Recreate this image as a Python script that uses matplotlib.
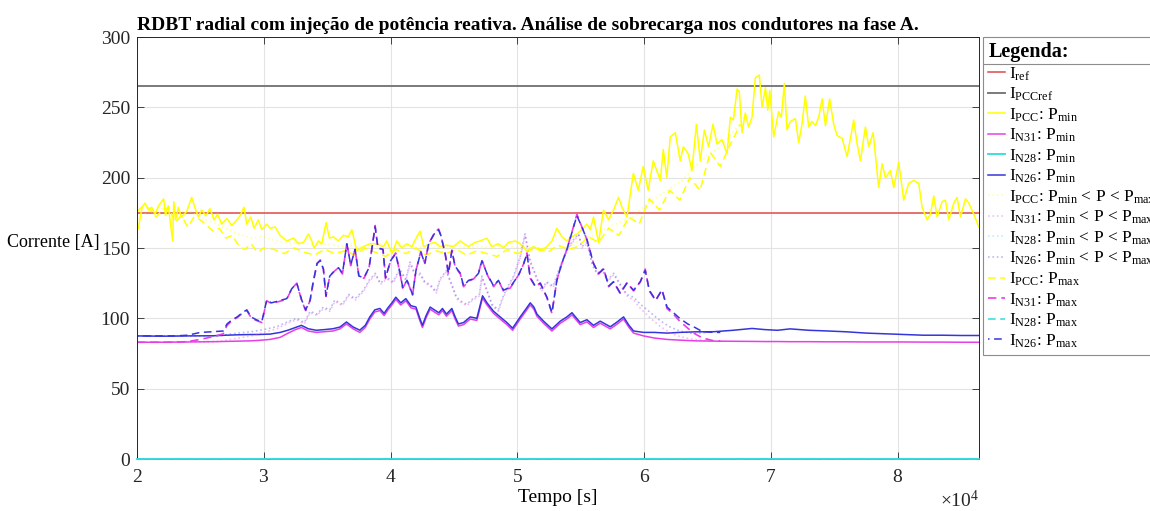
import numpy as np
import matplotlib
matplotlib.use("Agg")
import matplotlib.pyplot as plt
from matplotlib.lines import Line2D
from matplotlib.ticker import MultipleLocator

plt.rcParams["font.family"] = "Liberation Serif"
plt.rcParams["mathtext.fontset"] = "custom"
plt.rcParams["mathtext.rm"] = "Liberation Serif"
plt.rcParams["mathtext.it"] = "Liberation Serif:italic"
plt.rcParams["mathtext.bf"] = "Liberation Serif:bold"
plt.rcParams["mathtext.default"] = "rm"

# ── Reference currents [A] ────────────────────────────────────────────────
I_REF = 175
I_PCC_REF = 265

# ── I_PCC, P_min (seconds, amperes) ──────────────────────────────────────
t_pcc_min = [
    20100, 20400, 20630, 20900, 21150, 21420, 21700, 21950, 22100, 22250,
    22470, 22650, 22810, 22900, 23050, 23260, 23500, 23920, 24310, 24560,
    24840, 25100, 25440, 25750, 26080, 26350, 26680, 27080, 27470, 27870,
    28130, 28440, 28650, 28970, 29230, 29570, 29840, 30230, 30500, 30890,
    31280, 31800, 32340, 32730, 33130, 33520, 33780, 33970, 34300, 34570,
    34910, 35170, 35480, 35880, 36280, 36670, 36940, 37330, 37850, 38380,
    38900, 39430, 39700, 40100, 40490, 40880, 41280, 41670, 42070, 42330,
    42600, 43100, 43500, 43890, 44420, 44950, 45480, 46130, 46660, 47060,
    47590, 47980, 48500, 48900, 49300, 49830, 50220, 50750, 51270, 51800,
    52330, 52720, 53110, 53500, 53900, 54300, 54690, 55080, 55480, 55740,
    56000, 56400, 56790, 57180, 57580, 57970, 58240, 58640, 59140, 59530,
    59920, 60310, 60710, 61270, 61500, 61780, 62050, 62450, 62840, 63080,
    63470, 63760, 64110, 64420, 64740, 65080, 65420, 65740, 66130, 66530,
    66790, 67030, 67320, 67500, 67710, 67970, 68230, 68500, 68760, 69080,
    69290, 69560, 69740, 69900, 70210, 70600, 70810, 71050, 71260, 71520,
    71920, 72180, 72440, 72700, 72970, 73230, 73500, 73760, 74030, 74290,
    74620, 74940, 75210, 75600, 76000, 76520, 76790, 77050, 77440, 77710,
    78050, 78490, 78760, 79020, 79410, 79680, 80070, 80460, 80860, 81250,
    81650, 81910, 82310, 82570, 82830, 83100, 83490, 83750, 84020, 84410,
    84670, 84940, 85330, 85590, 85990, 86380,
]
i_pcc_min = [
    164, 179, 182, 177, 179, 174, 180, 183, 185, 173,
    180, 167, 155, 183, 170, 179, 172, 176, 186, 179,
    172, 177, 173, 178, 170, 174, 167, 171, 166, 170,
    173, 179, 167, 172, 164, 170, 163, 167, 164, 165,
    159, 155, 157, 153, 154, 160, 155, 150, 155, 153,
    168, 157, 158, 155, 159, 158, 163, 148, 151, 153,
    153, 151, 155, 146, 155, 150, 153, 151, 158, 162,
    151, 153, 154, 151, 152, 151, 155, 151, 154, 155,
    157, 151, 153, 150, 154, 155, 153, 148, 151, 148,
    151, 155, 164, 158, 155, 158, 160, 163, 167, 163,
    172, 154, 177, 170, 177, 186, 179, 172, 203, 191,
    208, 191, 212, 198, 220, 200, 229, 232, 212, 222,
    217, 205, 238, 212, 234, 222, 238, 224, 227, 217,
    243, 241, 263, 261, 232, 246, 236, 243, 271, 273,
    250, 264, 248, 262, 229, 247, 243, 267, 234, 240,
    242, 225, 238, 258, 236, 240, 237, 243, 256, 237,
    256, 238, 230, 228, 215, 241, 224, 212, 236, 222,
    232, 193, 210, 200, 205, 193, 211, 184, 196, 198,
    196, 179, 170, 174, 187, 172, 183, 184, 170, 182,
    186, 172, 185, 182, 174, 165,
]

# ── I_PCC, P_min < P < P_max ─────────────────────────────────────────────
t_pcc_mid = np.arange(20000, 68001, 1000)
i_pcc_mid = [
    171, 176, 178, 174, 177, 172, 168, 164, 160, 157,
    158, 155, 153, 154, 152, 153, 151, 152, 150, 151,
    150, 152, 150, 151, 150, 152, 150, 151, 150, 152,
    150, 151, 149, 150, 151, 156, 159, 164, 168, 171,
    180, 186, 192, 198, 208, 216, 222, 232, 245,
]

# ── I_PCC, P_max ─────────────────────────────────────────────────────────
t_pcc_max = [
    20000, 20500, 21000, 21500, 22000, 22500, 23000, 23500, 24000, 24500,
    25000, 25500, 26000, 26500, 27000, 27500, 28000, 28500, 29000, 29500,
    30000, 30800, 31600, 32400, 33200, 34000, 34800, 35600, 36400, 37200,
    38000, 38800, 39600, 40400, 41200, 42000, 42800, 43600, 44400, 45200,
    46000, 46800, 47600, 48400, 49200, 50000, 50800, 51600, 52400, 53200,
    54000, 54800, 55600, 56400, 57200, 58000, 58800, 59600, 60400, 61200,
    62000, 62800, 63600, 64400, 65200, 66000, 66800, 67600,
]
i_pcc_max = [
    176, 180, 178, 172, 177, 179, 168, 173, 165, 172,
    170, 166, 162, 164, 157, 159, 152, 149, 153, 147,
    150, 149, 146, 150, 147, 145, 149, 146, 148, 145,
    150, 147, 144, 149, 146, 150, 145, 148, 146, 149,
    145, 148, 146, 144, 149, 146, 148, 150, 147, 152,
    149, 151, 158, 154, 164, 159, 172, 167, 185, 177,
    191, 184, 200, 191, 218, 208, 224, 238,
]

# ── I_N31 / I_N26, P_min ─────────────────────────────────────────────────
t_n_min = [
    20000, 22000, 24000, 26000, 27000, 28000, 29000, 29550, 30500, 31300,
    31920, 32500, 32970, 33500, 34150, 34800, 35450, 36000, 36520, 37050,
    37570, 38000, 38360, 38750, 39150, 39490, 39750, 40100, 40410, 40800,
    41200, 41600, 42000, 42300, 42510, 42800, 43120, 43450, 43800, 44090,
    44400, 44830, 45090, 45350, 45750, 46280, 46800, 47250, 47600, 48120,
    48640, 49170, 49620, 50220, 50700, 51010, 51300, 51540, 52060, 52720,
    53380, 53900, 54300, 54950, 55480, 56000, 56530, 57320, 57800, 58370,
    58800, 59160, 59950, 60800, 61800, 62800, 64000, 65500, 67000, 68500,
    69500, 70500, 71500, 73000, 74500, 76000, 77500, 79000, 80500, 82000,
    83500, 85000, 86400,
]
i_n26_min = [
    87.5, 87.3, 87.5, 87.6, 88, 88.3, 88.5, 88.5, 88.8, 90,
    91.6, 93.5, 95, 92.6, 91.5, 92, 92.6, 93.8, 97.4, 93.8,
    91.6, 95, 101, 106, 107, 103.5, 107, 111, 115, 111,
    114, 109, 108, 100, 95, 102, 108, 106, 104, 107,
    103, 107, 101, 96, 97, 101, 100, 116, 111, 105,
    101, 97, 93, 101, 107, 111, 108, 103, 98, 92.5,
    98, 101, 104, 97, 99, 95, 98, 94, 97, 101,
    95, 91, 90, 90, 89.5, 90, 90.4, 90.5, 91.5, 92.8,
    92, 91.5, 92.5, 91.5, 91, 90.4, 89.5, 89, 88.5, 88,
    88, 87.8, 87.8,
]
i_n31_min = [
    83, 83, 83.2, 83.4, 83.6, 83.8, 84, 84.3, 85, 86.5,
    89.5, 92, 93.5, 91, 90, 90.5, 91, 92.5, 96, 92.5,
    90, 93.5, 99.5, 104.5, 105.5, 102, 105.5, 109.5, 113.5, 109.5,
    112.5, 107.5, 106.5, 98.5, 93.5, 100.5, 106.5, 104.5, 102.5, 105.5,
    101.5, 105.5, 99.5, 94.5, 95.5, 99.5, 98.5, 114.5, 109.5, 103.5,
    99.5, 95.5, 91.5, 99.5, 105.5, 109.5, 106.5, 101.5, 96.5, 91,
    96.5, 99.5, 102.5, 95.5, 97.5, 93.5, 96.5, 92.5, 95.5, 99.5,
    93.5, 89.5, 87.5, 86, 85, 84.5, 84, 83.8, 83.7, 83.6,
    83.5, 83.5, 83.4, 83.4, 83.3, 83.3, 83.2, 83.2, 83.2, 83.1,
    83.1, 83, 83,
]

# ── I_N31 / I_N26, P_min < P < P_max ─────────────────────────────────────
t_n_mid = [
    20000, 26500, 27100, 28000, 29000, 30000, 31000, 32000, 32600, 33200,
    33650, 34200, 34700, 35200, 35600, 36200, 36700, 37200, 37860, 38300,
    38800, 39200, 39700, 40200, 40700, 41200, 41540, 41900, 42330, 42700,
    43120, 43600, 43900, 44400, 44830, 45200, 45600, 46000, 46500, 47000,
    47200, 47600, 48000, 48500, 48800, 49200, 49700, 50220, 50600, 51000,
    51400, 51900, 52300, 52820, 53370, 53900, 54430, 54820, 55080, 55500,
    55900, 56300, 56700, 57100, 57600, 58000, 58630, 59160, 59700, 60500,
    61300, 62000, 62800, 63900, 65000,
]
i_n26_mid = [
    87.5, 87.5, 88.5, 89.5, 90.5, 92, 94, 98, 100, 97,
    105, 103, 108, 106, 113, 110, 117, 114, 120, 127,
    132, 125, 129, 126, 135, 128, 140, 132, 132, 126,
    124, 119, 128, 134, 124, 115, 112, 110, 114, 117,
    130, 120, 110, 106, 114, 122, 130, 144, 160, 141,
    132, 120, 126, 123, 137, 149, 156, 160, 151, 154,
    139, 132, 135, 127, 132, 126, 117, 115, 110, 104,
    98, 94, 91, 89, 90,
]
i_n31_mid = [
    83, 83.5, 84.5, 86, 87.5, 90, 92.5, 97, 99, 96,
    104, 102, 107, 105, 112, 109, 116, 113, 119, 126,
    131, 124, 128, 125, 134, 127, 139, 131, 131, 125,
    123, 118, 127, 133, 123, 114, 111, 109, 113, 116,
    129, 119, 109, 105, 113, 121, 129, 143, 159, 140,
    131, 119, 125, 122, 136, 148, 155, 159, 150, 153,
    138, 131, 134, 126, 131, 125, 116, 113, 107, 100,
    94, 90, 87, 85, 84,
]

# ── I_N31 / I_N26, P_max ─────────────────────────────────────────────────
t_n_max = [
    20000, 23000, 24000, 25000, 26000, 26800, 27100, 27500, 27900, 28300,
    28660, 29000, 29400, 29840, 30230, 30600, 31020, 31400, 31810, 32200,
    32600, 32990, 33300, 33650, 33900, 34200, 34450, 34700, 34900, 35200,
    35500, 35890, 36200, 36550, 36850, 37200, 37500, 37900, 38300, 38780,
    39000, 39400, 39600, 40000, 40400, 40750, 40950, 41300, 41730, 42000,
    42380, 42700, 43000, 43440, 43780, 43960, 44300, 44560, 44830, 45090,
    45500, 45750, 46150, 46540, 46930, 47200, 47590, 48120, 48500, 48900,
    49430, 50100, 50500, 50750, 51010, 51400, 51800, 52330, 52720, 53110,
    53500, 53900, 54430, 54690, 55080, 55480, 56000, 56400, 56800, 57200,
    57580, 58110, 58640, 59160, 59690, 60080, 60400, 60900, 61400, 61800,
    62300, 62800, 63430, 64000, 64600, 65500, 66000,
]
i_n26_max = [
    87.5, 87.5, 88, 90, 90.5, 91, 96, 99, 101, 104,
    106, 101, 99, 97.5, 113, 111, 112, 113, 114, 121,
    125, 113, 106, 113, 126, 139, 141, 135, 116, 130,
    133, 136, 132, 153, 138, 149, 130, 129, 136, 165,
    150, 149, 129, 141, 146, 132, 122, 127, 117, 134,
    147, 139, 153, 160, 163, 159, 146, 132, 148, 137,
    132, 123, 127, 128, 132, 141, 132, 123, 127, 120,
    122, 131, 139, 146, 129, 123, 125, 115, 104, 127,
    139, 149, 165, 173, 165, 156, 139, 132, 135, 123,
    126, 118, 125, 120, 126, 134, 120, 113, 120, 108,
    104, 100, 96, 93.5, 90.5, 90, 90,
]
i_n31_max = [
    83, 83, 83.5, 85, 87, 89, 95, 98.5, 100.5, 103.5,
    105.5, 100.5, 98.5, 97, 112.5, 110.5, 111.5, 112.5, 113.5, 121,
    125, 112.5, 105.5, 112.5, 126, 139, 141.5, 135, 115.5, 130,
    133, 136, 131.5, 153.5, 137.5, 149, 129.5, 128.5, 136, 166,
    150, 149, 128.5, 141, 146.5, 131.5, 121.5, 127, 116.5, 134,
    147.5, 139, 153, 160.5, 163.5, 159, 146, 131.5, 148.5, 136.5,
    131.5, 122.5, 126.5, 128, 132, 141.5, 131.5, 122.5, 127, 119.5,
    121.5, 131, 139, 146.5, 128.5, 122.5, 125, 114.5, 103.5, 127,
    139, 149, 165.5, 174, 165, 156, 139, 131.5, 135.5, 122.5,
    126, 117.5, 125.5, 119.5, 126, 135, 119.5, 112.5, 120.5, 107,
    103, 98, 93, 89, 86, 84, 84,
]

# ── I_N28 stays at zero in every scenario ────────────────────────────────
t_n28 = [20000, 86400]
i_n28 = [0, 0]

YELLOW = "#ffff00"
MAGENTA = "#e83ee8"
CYAN = "#2fdcdc"
BLUE = "#3535dc"
RED = "#e04848"
GRAY = "#7a7a7a"
DASH = (0, (5, 3))

fig = plt.figure(figsize=(11.5, 5.11), dpi=100)
ax = fig.add_axes([137 / 1150, 52 / 511, 842 / 1150, 422 / 511])

# reference levels and Pmin: solid lines
ax.axhline(I_REF, color=RED, lw=1.1, label=r"I$_{\mathrm{ref}}$")
ax.axhline(I_PCC_REF, color=GRAY, lw=1.4, label=r"I$_{\mathrm{PCCref}}$")
ax.plot(t_pcc_min, i_pcc_min, color=YELLOW, lw=1.1,
        label=r"I$_{\mathrm{PCC}}$: P$_{\mathrm{min}}$")
ax.plot(t_n_min, i_n31_min, color=MAGENTA, lw=1.1,
        label=r"I$_{\mathrm{N31}}$: P$_{\mathrm{min}}$")
ax.plot(t_n28, i_n28, color=CYAN, lw=1.3, clip_on=False, zorder=3,
        label=r"I$_{\mathrm{N28}}$: P$_{\mathrm{min}}$")
ax.plot(t_n_min, i_n26_min, color=BLUE, lw=1.1,
        label=r"I$_{\mathrm{N26}}$: P$_{\mathrm{min}}$")

# intermediate power: pale dotted lines
mid = r": P$_{\mathrm{min}}$ < P < P$_{\mathrm{max}}$"
ax.plot(t_pcc_mid, i_pcc_mid, color=YELLOW, alpha=0.35, ls=":", lw=1.2,
        label=r"I$_{\mathrm{PCC}}$" + mid)
ax.plot(t_n_mid, i_n31_mid, color=MAGENTA, alpha=0.35, ls=":", lw=1.2,
        label=r"I$_{\mathrm{N31}}$" + mid)
ax.plot(t_n28, i_n28, color=CYAN, alpha=0.35, ls=":", lw=1.2, clip_on=False,
        zorder=3, label=r"I$_{\mathrm{N28}}$" + mid)
ax.plot(t_n_mid, i_n26_mid, color=BLUE, alpha=0.35, ls=":", lw=1.2,
        label=r"I$_{\mathrm{N26}}$" + mid)

# Pmax: dashed lines
ax.plot(t_pcc_max, i_pcc_max, color=YELLOW, ls=DASH, lw=1.1,
        label=r"I$_{\mathrm{PCC}}$: P$_{\mathrm{max}}$")
ax.plot(t_n_max, i_n31_max, color=MAGENTA, ls=DASH, lw=1.2,
        label=r"I$_{\mathrm{N31}}$: P$_{\mathrm{max}}$")
ax.plot(t_n28, i_n28, color=CYAN, ls=DASH, lw=1.1, clip_on=False,
        zorder=3, label=r"I$_{\mathrm{N28}}$: P$_{\mathrm{max}}$")
ax.plot(t_n_max, i_n26_max, color=BLUE, ls=(4, (5, 3)), lw=1.1,
        label=r"I$_{\mathrm{N26}}$: P$_{\mathrm{max}}$")

ax.set_xlim(20000, 86400)
ax.set_ylim(0, 300)
ax.xaxis.set_major_locator(MultipleLocator(10000))
ax.yaxis.set_major_locator(MultipleLocator(50))
ax.ticklabel_format(axis="x", style="sci", scilimits=(4, 4), useMathText=True)
ax.xaxis.get_offset_text().set_fontsize(14)

ax.grid(True, color="#e3e3e3", lw=0.8)
ax.set_axisbelow(True)
for sp in ax.spines.values():
    sp.set_color("#262626")
    sp.set_linewidth(0.7)
ax.tick_params(direction="in", top=True, right=True, length=5, width=0.6,
               colors="#262626", labelsize=14)
ax.tick_params(axis="x", pad=7)
ax.tick_params(axis="y", pad=5)

ax.set_title("RDBT radial com injeção de potência reativa. Análise de "
             "sobrecarga nos condutores na fase A.",
             loc="left", fontsize=14, fontweight="bold", pad=5)
ax.set_xlabel("Tempo [s]", fontsize=14, labelpad=2)
ax.set_ylabel("Corrente [A]", fontsize=13, rotation=0, ha="right", va="center")
ax.yaxis.set_label_coords(-0.044, 0.512)

leg = fig.legend(
    loc="upper left", bbox_to_anchor=(983 / 1150, 474 / 511),
    title="Legenda:", alignment="left",
    title_fontproperties={"weight": "bold", "size": 14.5},
    fontsize=12.5, frameon=True, fancybox=False, framealpha=1,
    edgecolor="#8c8c8c", handlelength=0.95, handletextpad=0.25,
    borderpad=0.3, labelspacing=0.18, borderaxespad=0,
)
leg.get_frame().set_linewidth(0.8)

# rule under the legend title
fig.canvas.draw()
r = fig.canvas.get_renderer()
lb = leg.get_window_extent(r)
tb = leg.get_title().get_window_extent(r)
W, H = fig.bbox.width, fig.bbox.height
y_sep = (tb.y0 - 2) / H
fig.add_artist(Line2D([lb.x0 / W, lb.x1 / W], [y_sep, y_sep],
                      transform=fig.transFigure, color="#8c8c8c", lw=0.8,
                      zorder=10))

fig.savefig("out.png", dpi=100)
